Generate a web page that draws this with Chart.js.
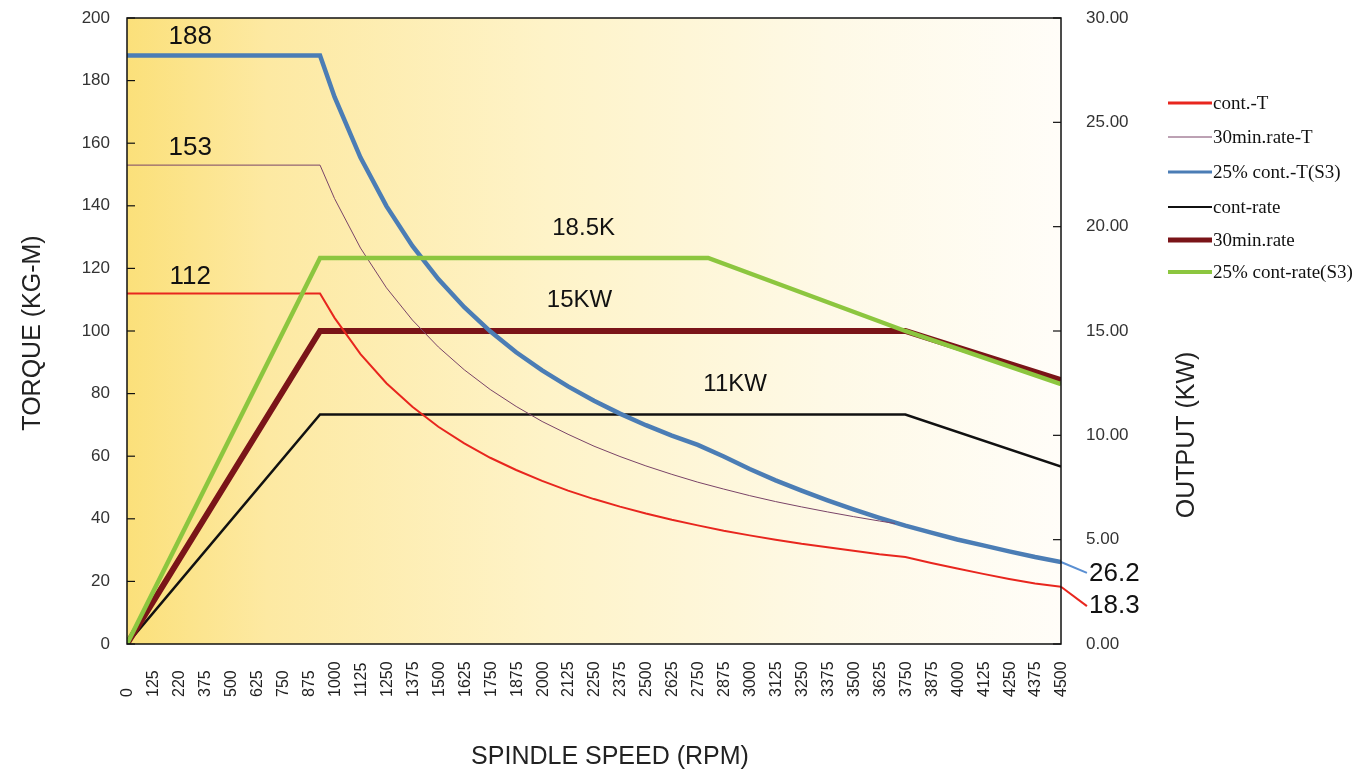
<!DOCTYPE html>
<html><head><meta charset="utf-8">
<script src="https://cdn.jsdelivr.net/npm/chart.js@4"></script>
<style>html,body{margin:0;padding:0;background:#fff;overflow:hidden}#wrap{width:1366px;height:777px;position:relative}</style>
</head><body><div id="wrap"><canvas id="c" width="1366" height="777"></canvas></div>
<script>
// ---- data ----
const speedLabels = ['0','125','220','375','500','625','750','875','1000','1125','1250','1375','1500','1625','1750','1875','2000','2125','2250','2375','2500','2625','2750','2875','3000','3125','3250','3375','3500','3625','3750','3875','4000','4125','4250','4375','4500'];
const torqueTicks = [0,20,40,60,80,100,120,140,160,180,200];
const outputTicks = ['0.00','5.00','10.00','15.00','20.00','25.00','30.00'];

const torqueRpm = [0,930,1000,1125,1250,1375,1500,1625,1750,1875,2000,2125,2250,2375,2500,2625,2750,2875,3000,3125,3250,3375,3500,3625,3750,3875,4000,4125,4250,4375,4500];
const contT     = [112,112,104.2,92.6,83.3,75.8,69.4,64.1,59.5,55.6,52.1,49.0,46.3,43.9,41.7,39.7,37.9,36.2,34.7,33.3,32.0,30.9,29.8,28.7,27.8,25.9,24.1,22.4,20.8,19.3,18.3];
const s3T       = [188,188,174.8,155.4,139.9,127.2,116.6,107.6,99.9,93.2,87.4,82.3,77.7,73.6,69.9,66.6,63.6,59.9,55.9,52.3,49.0,45.9,43.0,40.3,37.8,35.6,33.4,31.5,29.6,27.8,26.2];
const min30TRpm = [0,930,1000,1125,1250,1375,1500,1625,1750,1875,2000,2125,2250,2375,2500,2625,2750,2875,3000,3125,3250,3375,3500,3625,3700];
const min30T    = [153,153,142.3,126.5,113.8,103.5,94.9,87.6,81.3,75.9,71.1,67.0,63.2,59.9,56.9,54.2,51.7,49.5,47.4,45.5,43.8,42.2,40.7,39.3,38.5];

const contRateRpm  = [0,930,3750,4500];
const contRate     = [0,11,11,8.5];
const min30RateRpm = [0,930,3750,4500];
const min30Rate    = [0,15,15,12.65];
const s3RateRpm    = [0,930,2800,3750,4500];
const s3Rate       = [0,18.5,18.5,15.0,12.45];

const leaderRpm = [4500,4625];
const s3Leader  = [26.2,22.7];
const contLeader= [18.3,12.1];

const seriesNames = ['cont.-T','30min.rate-T','25% cont.-T(S3)','cont-rate','30min.rate','25% cont-rate(S3)'];

// ---- helpers ----
const xy = (xs, ys) => xs.map((x,i)=>({x:x, y:ys[i]}));
const SANS = '"Liberation Sans", Arial, sans-serif';
const C = {red:'#e8261e', purple:'#7a4468', blue:'#4b7db5', black:'#111111', maroon:'#7a1418', green:'#8cc63f'};

const bgPlugin = {
  id:'bg',
  beforeDatasetsDraw(chart){
    const {ctx, chartArea:a} = chart;
    ctx.save();
    const g = ctx.createLinearGradient(a.left,0,a.right,0);
    g.addColorStop(0,'#fbe07a');
    g.addColorStop(0.15,'#fde9a2');
    g.addColorStop(0.45,'#fef3c8');
    g.addColorStop(0.75,'#fef9e6');
    g.addColorStop(1,'#fffdf8');
    ctx.fillStyle = g;
    ctx.fillRect(a.left,a.top,a.right-a.left,a.bottom-a.top);
    ctx.restore();
  },
  afterDatasetsDraw(chart){
    const {ctx, chartArea:a, scales} = chart;
    ctx.save();
    // frame
    ctx.strokeStyle='#111'; ctx.lineWidth=1.5;
    ctx.strokeRect(a.left,a.top,a.right-a.left,a.bottom-a.top);
    // inward tick marks
    ctx.lineWidth=1.2;
    scales.y.ticks.forEach(t=>{const p=scales.y.getPixelForValue(t.value); ctx.beginPath(); ctx.moveTo(a.left,p); ctx.lineTo(a.left+8,p); ctx.stroke();});
    scales.y2.ticks.forEach(t=>{const p=scales.y2.getPixelForValue(t.value); ctx.beginPath(); ctx.moveTo(a.right,p); ctx.lineTo(a.right-8,p); ctx.stroke();});
    // x tick labels (rotated, bottom-anchored)
    ctx.fillStyle='#222'; ctx.font='16px '+SANS; ctx.textAlign='left'; ctx.textBaseline='middle';
    scales.x.ticks.forEach((t,i)=>{
      const px = scales.x.getPixelForValue(t.value);
      ctx.save(); ctx.translate(px+1, 697); ctx.rotate(-Math.PI/2);
      ctx.fillText(speedLabels[i] ?? '', 0, 0); ctx.restore();
    });
    // annotations
    const X = v=>scales.x.getPixelForValue(v), Y = v=>scales.y.getPixelForValue(v), Y2=v=>scales.y2.getPixelForValue(v);
    ctx.fillStyle='#111'; ctx.textAlign='center'; ctx.textBaseline='middle';
    ctx.font='26px '+SANS;
    ctx.fillText('188', X(305), Y(188)-19);
    ctx.fillText('153', X(305), Y(153)-17);
    ctx.fillText('112', X(305), Y(112)-17);
    ctx.font='24px '+SANS;
    ctx.fillText('18.5K', X(2200), Y2(18.5)-30);
    ctx.fillText('15KW', X(2180), Y2(15)-31);
    ctx.fillText('11KW', X(2930), Y2(11)-30);
    ctx.textAlign='left';
    ctx.font='26px '+SANS;
    ctx.fillText('26.2', a.right+28, Y(22.7)+1);
    ctx.fillText('18.3', a.right+28, Y(12.1));
    // axis titles
    ctx.fillStyle='#222'; ctx.textAlign='center';
    ctx.font='25px '+SANS;
    ctx.save(); ctx.translate(33,(a.top+a.bottom)/2+2); ctx.rotate(-Math.PI/2); ctx.fillText('TORQUE (KG-M)',0,0); ctx.restore();
    ctx.save(); ctx.translate(1187,435); ctx.rotate(-Math.PI/2); ctx.fillText('OUTPUT (KW)',0,0); ctx.restore();
    ctx.fillText('SPINDLE SPEED (RPM)', 610, 757);
    // legend
    const legend = [[C.red,3],[C.purple,1],[C.blue,3],[C.black,2],[C.maroon,5],[C.green,4]];
    const rows = [103,137,172,207,240,272];
    ctx.textAlign='left'; ctx.font='19px "Liberation Serif", "DejaVu Serif", serif'; ctx.fillStyle='#111';
    legend.forEach((l,i)=>{
      ctx.strokeStyle=l[0]; ctx.lineWidth=l[1];
      ctx.beginPath(); ctx.moveTo(1168,rows[i]); ctx.lineTo(1212,rows[i]); ctx.stroke();
      ctx.fillText(seriesNames[i], 1213, rows[i]+1);
    });
    ctx.restore();
  }
};

const ds = (label, data, color, width, axis, order, extra) => Object.assign({
  label, data, borderColor: color, backgroundColor: color, borderWidth: width,
  yAxisID: axis, pointRadius: 0, pointHoverRadius: 0, tension: 0, fill: false, order
}, extra||{});

const noPad = (s)=>{ s.paddingTop = 0; s.paddingBottom = 0; };

new Chart(document.getElementById('c'), {
  type:'line',
  data:{ datasets:[
    ds(seriesNames[5], xy(s3RateRpm,s3Rate), C.green, 4.5, 'y2', 1),
    ds(seriesNames[0], xy(torqueRpm,contT), C.red, 2, 'y', 2),
    ds(seriesNames[1], xy(min30TRpm,min30T), C.purple, 1, 'y', 3),
    ds(seriesNames[2], xy(torqueRpm,s3T), C.blue, 4.5, 'y', 4),
    ds(seriesNames[4], xy(min30RateRpm,min30Rate), C.maroon, 6, 'y2', 5),
    ds(seriesNames[3], xy(contRateRpm,contRate), C.black, 2.5, 'y2', 6),
    ds('s3-leader', xy(leaderRpm,s3Leader), '#5a8fd2', 2, 'y', 7, {clip:false}),
    ds('cont-leader', xy(leaderRpm,contLeader), C.red, 2, 'y', 8, {clip:false})
  ]},
  options:{
    responsive:false, animation:false, devicePixelRatio:1,
    layout:{padding:{top:18,left:0,right:0,bottom:0}},
    plugins:{legend:{display:false}, tooltip:{enabled:false}},
    scales:{
      x:{type:'linear', min:0, max:4500, position:'bottom',
         ticks:{stepSize:125, display:false, autoSkip:false, includeBounds:true},
         grid:{display:false, drawTicks:false}, border:{display:false},
         afterBuildTicks:(s)=>{ s.ticks = speedLabels.map((l,i)=>({value:i*125})); },
         afterFit:(s)=>{ s.height = 133; s.paddingLeft=0; s.paddingRight=0; }},
      y:{type:'linear', position:'left', min:0, max:200,
         ticks:{stepSize:20, padding:17, color:'#333', font:{family:SANS,size:17}},
         grid:{display:false, drawTicks:false}, border:{display:false},
         afterFit:(s)=>{ s.width = 127; noPad(s); }},
      y2:{type:'linear', position:'right', min:0, max:30,
         ticks:{stepSize:5, padding:25, color:'#333', font:{family:SANS,size:17},
                callback:(v,i)=>outputTicks[i]},
         grid:{display:false, drawTicks:false}, border:{display:false},
         afterFit:(s)=>{ s.width = 305; noPad(s); }}
    }
  },
  plugins:[bgPlugin]
});
</script></body></html>
